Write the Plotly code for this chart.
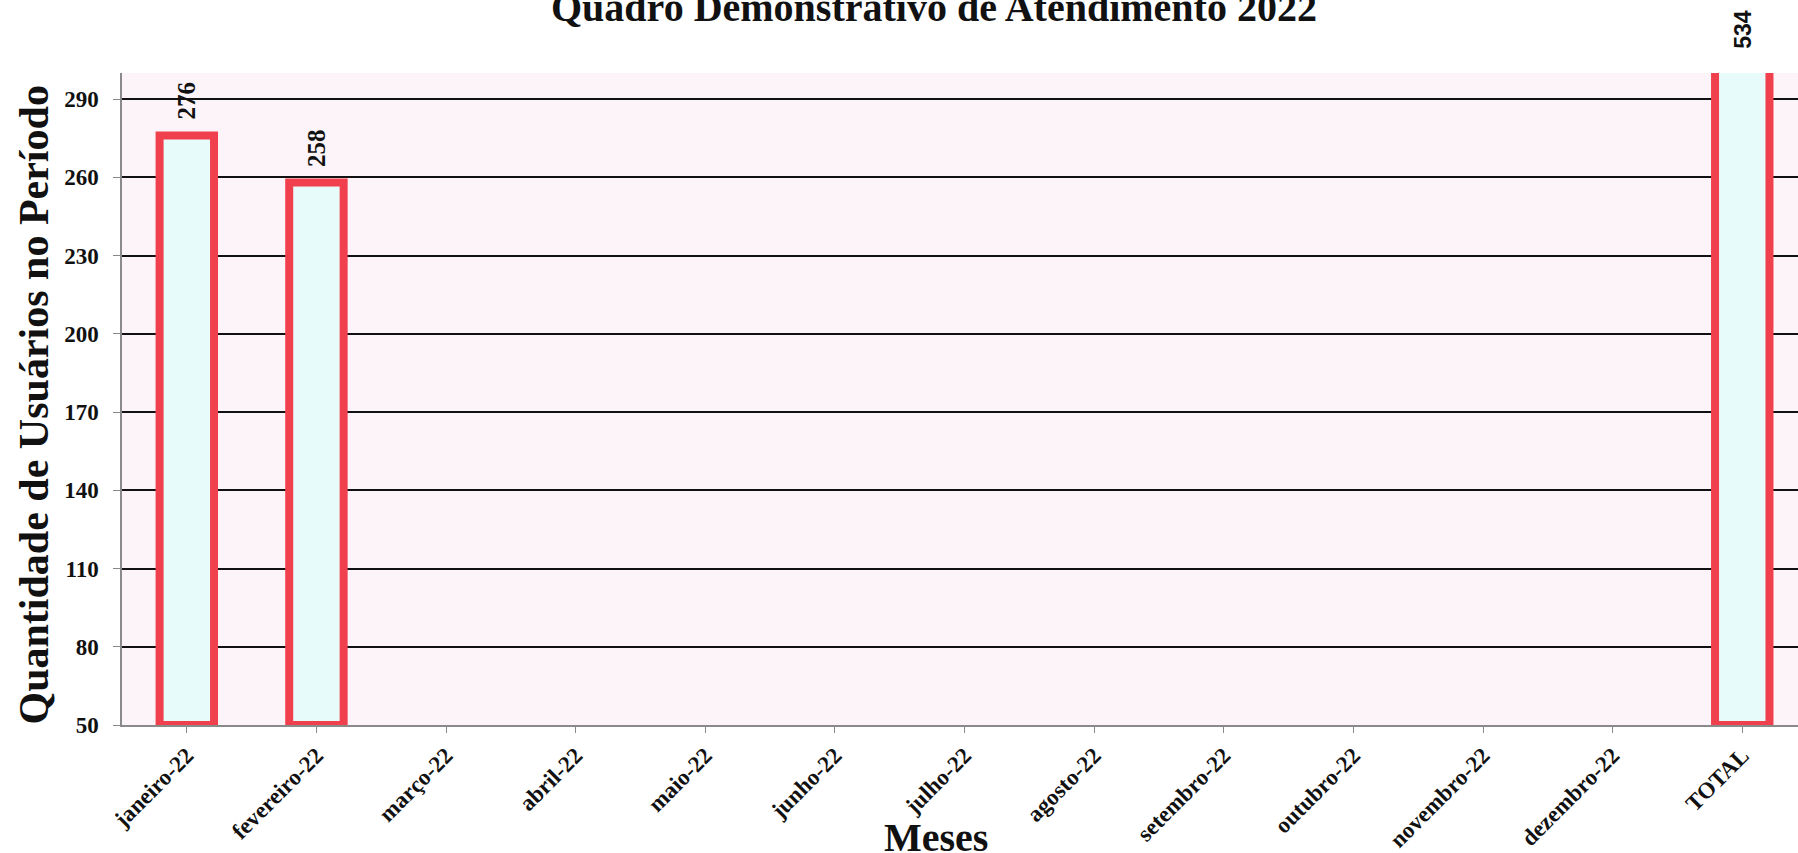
import plotly.graph_objects as go

categories = ["janeiro-22", "fevereiro-22", "março-22", "abril-22", "maio-22", "junho-22",
              "julho-22", "agosto-22", "setembro-22", "outubro-22", "novembro-22",
              "dezembro-22", "TOTAL"]
values = [276, 258, None, None, None, None, None, None, None, None, None, None, 534]
y_ticks = [50, 80, 110, 140, 170, 200, 230, 260, 290]

Y_MIN, Y_MAX = 50, 300
SERIF = "Liberation Serif, Times New Roman, serif"
SANS = "Liberation Sans, Arial, sans-serif"

x_idx = list(range(len(categories)))
bar_x = [i for i, v in zip(x_idx, values) if v is not None]
bar_v = [v for v in values if v is not None]

fig = go.Figure()
fig.add_trace(go.Bar(
    x=bar_x,
    y=[v - Y_MIN for v in bar_v],
    base=[Y_MIN] * len(bar_v),
    width=0.42,
    marker=dict(color="#e8fbfb", line=dict(color="#f0404e", width=8)),
    hovertext=[str(v) for v in bar_v],
    hoverinfo="text",
    showlegend=False,
))

annotations = []
for xi, v in zip(bar_x, bar_v):
    clipped = v > Y_MAX
    annotations.append(dict(
        x=xi, y=min(v, Y_MAX), xref="x", yref="y",
        text=f"<b>{v}</b>", showarrow=False, textangle=-90,
        xanchor="center", yanchor="bottom",
        yshift=22 if clipped else 14,
        font=dict(family=SANS if clipped else SERIF, size=23 if clipped else 25, color="#111"),
    ))

# title, axis titles
annotations.append(dict(
    x=0.4845, y=1.0628, xref="paper", yref="paper", showarrow=False,
    text="<b>Quadro Demonstrativo de Atendimento 2022</b>",
    xanchor="center", yanchor="bottom",
    font=dict(family=SERIF, size=40, color="#111"),
))
annotations.append(dict(
    x=-0.0525, y=0.49, xref="paper", yref="paper", showarrow=False,
    text="<b>Quantidade de Usuários no Período</b>", textangle=-90,
    xanchor="center", yanchor="middle",
    font=dict(family=SERIF, size=42, color="#111"),
))
annotations.append(dict(
    x=0.4855, y=-0.172, xref="paper", yref="paper", showarrow=False,
    text="<b>Meses</b>",
    xanchor="center", yanchor="middle",
    font=dict(family=SERIF, size=40, color="#111"),
))

fig.update_layout(
    width=1798, height=853,
    margin=dict(l=122, r=0, t=73, b=125),
    paper_bgcolor="white",
    plot_bgcolor="#fcf4f8",
    annotations=annotations,
)
fig.update_xaxes(
    range=[-0.5, 12.43],
    tickmode="array", tickvals=x_idx,
    ticktext=[f"<b>{c}</b>" for c in categories],
    tickangle=-45,
    tickfont=dict(family=SERIF, size=23, color="#111"),
    ticks="outside", ticklen=6, tickcolor="#888", tickson="boundaries",
    showline=True, linecolor="#8a8a8a", linewidth=2,
    showgrid=False, zeroline=False,
)
fig.update_yaxes(
    range=[Y_MIN, Y_MAX],
    tickmode="array", tickvals=y_ticks,
    ticktext=[f"<b>{t}</b>" for t in y_ticks],
    tickfont=dict(family=SERIF, size=23, color="#111"),
    ticks="outside", ticklen=7, tickcolor="#888",
    ticklabelstandoff=10,
    showline=True, linecolor="#8a8a8a", linewidth=1.5,
    showgrid=True, gridcolor="#111", gridwidth=2,
    zeroline=False,
)

fig.write_html(
    "out.html",
    config={"displayModeBar": False},
    post_script="document.body.style.margin='0';document.body.style.overflow='hidden';",
)
